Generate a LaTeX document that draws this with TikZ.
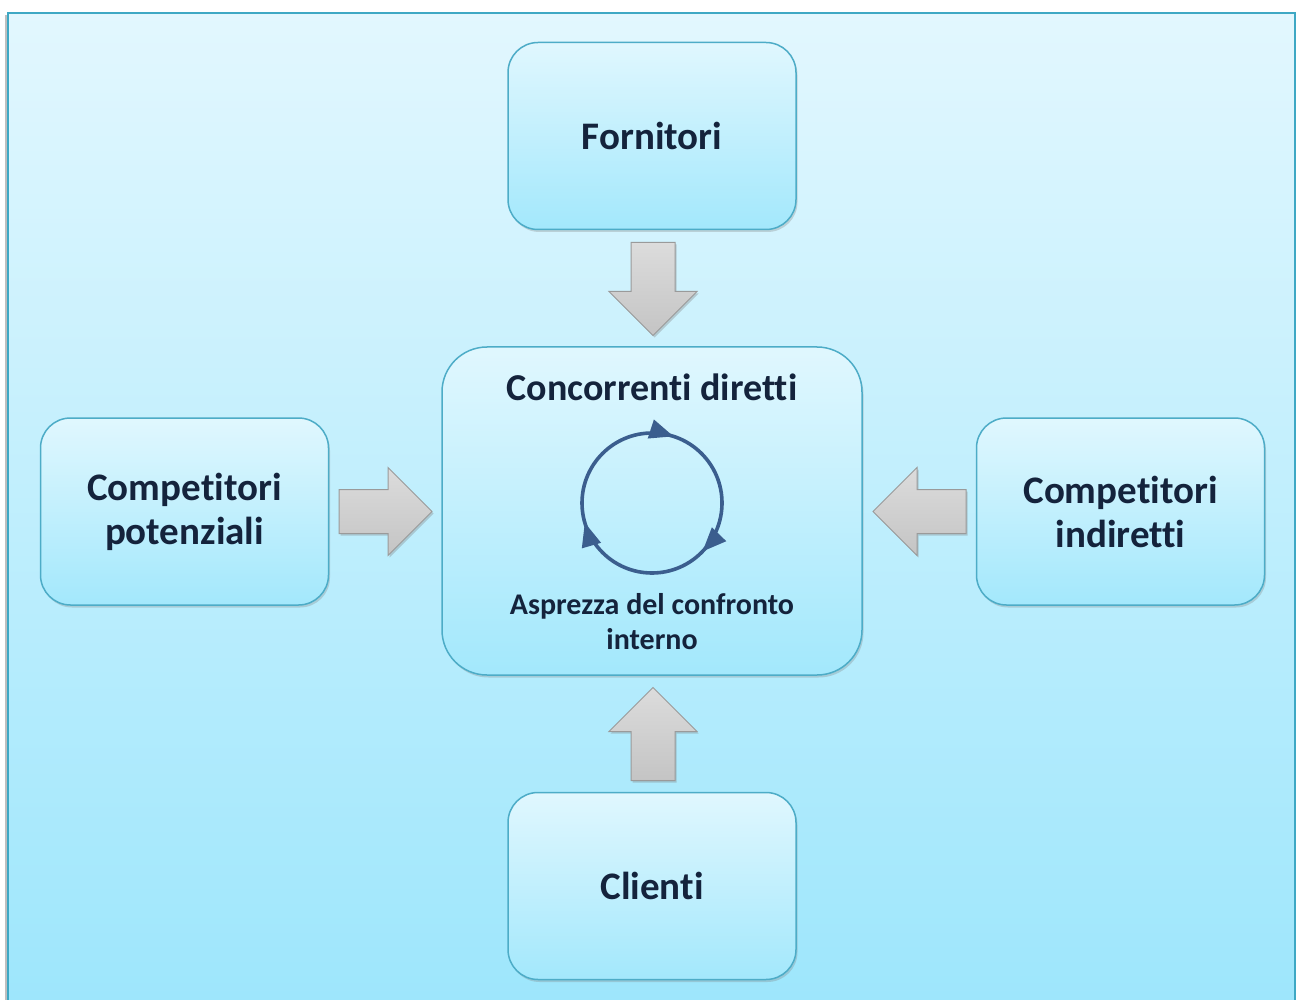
\documentclass[tikz,border=0pt]{standalone}
\usepackage{fontspec}
\setmainfont{Carlito}[Ligatures=NoCommon]
\usetikzlibrary{shapes.arrows,shadows,decorations.markings,arrows.meta}
\definecolor{bgtop}{HTML}{E2F7FE}
\definecolor{bgbot}{HTML}{9DE6FC}
\definecolor{frameline}{HTML}{3EA8C4}
\definecolor{boxtop}{HTML}{E0F7FE}
\definecolor{boxbot}{HTML}{A3E8FC}
\definecolor{boxline}{HTML}{4DACC7}
\definecolor{ink}{HTML}{14233C}
\definecolor{cyc}{HTML}{3B5E8E}
\definecolor{arrtop}{HTML}{DCDCDC}
\definecolor{arrbot}{HTML}{C4C4C4}
\definecolor{arrline}{HTML}{9A9A9A}
\tikzset{cyctip/.tip={Triangle[length=24pt, width=19pt]}}
\begin{document}
\begin{tikzpicture}[x=1pt,y=-1pt,
  force/.style={rounded corners=30pt, draw=boxline, line width=1.5pt,
    top color=boxtop, bottom color=boxbot,
    minimum width=288pt, minimum height=187pt, inner sep=0pt,
    align=center, text=ink,
    font=\bfseries\fontsize{39}{44}\selectfont,
    drop shadow={opacity=0.3, shadow xshift=1.5pt, shadow yshift=-2.5pt}},
  blockarrow/.style={single arrow, single arrow head extend=22pt,
    minimum width=88pt, minimum height=93pt, inner sep=21.5pt,
    draw=arrline, line width=1pt, top color=arrtop, bottom color=arrbot,
    drop shadow={opacity=0.35, shadow xshift=1.5pt, shadow yshift=-2pt}},
  cycle/.style={draw=cyc, line width=3.6pt,
    postaction={decorate, decoration={markings,
      mark=at position 0.05 with {\arrow[cyc]{cyctip}},
      mark=at position 0.372 with {\arrow[cyc]{cyctip}},
      mark=at position 0.705 with {\arrow[cyc]{cyctip}}}}}
]
\useasboundingbox (0,0) rectangle (1296,1000);
% page background and frame
\fill[white] (0,0) rectangle (1296,1000);
\fill[black!25] (5,15) rectangle (9,1000);
\path[top color=bgtop, bottom color=bgbot] (8,13) rectangle (1295,1012);
\draw[frameline, line width=2.5pt] (8,1012) -- (8,13) -- (1295,13) -- (1295,1012);

% the five forces
\node[force] (forn) at (652,136) {Fornitori};
\node[force] (cli) at (652,886) {Clienti};
\node[force] (pot) at (184.5,511.5) {Competitori\\potenziali};
\node[force] (ind) at (1120.5,511.5) {Competitori\\indiretti};
\node[force, rounded corners=45pt, minimum width=420pt, minimum height=328pt] (core) at (652,511) {};

\node[text=ink, font=\bfseries\fontsize{38}{40}\selectfont] (title) at (652,387) {Concorrenti diretti};
\node[text=ink, align=center, font=\bfseries\fontsize{30}{35}\selectfont] (sub) at (652,622) {Asprezza del confronto\\interno};

% rivalry cycle, running clockwise
\coordinate (cc) at (652,503);
\draw[cycle] (cc) ++(0,-70) arc[start angle=-90, end angle=270, radius=70];

% pressures on the core
\node[blockarrow, shape border rotate=270] (aF) at (653,278) {};
\node[blockarrow, shape border rotate=90] (aC) at (653,745) {};
\node[blockarrow, shape border rotate=0] (aP) at (374.5,511.5) {};
\node[blockarrow, shape border rotate=180] (aI) at (930.5,511.5) {};
\end{tikzpicture}
\end{document}
